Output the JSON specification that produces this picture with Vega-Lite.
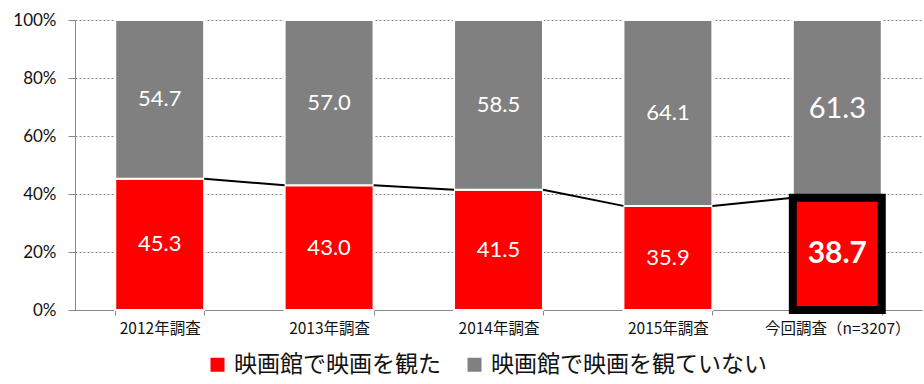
{
  "$schema": "https://vega.github.io/schema/vega-lite/v6.json",
  "width": 847,
  "height": 290,
  "autosize": {"type": "none"},
  "padding": {"left": 75, "top": 20, "right": 2, "bottom": 74},
  "background": "white",
  "config": {
    "view": {"stroke": null},
    "axis": {"domainColor": "#888888", "tickColor": "#888888", "labelColor": "#111111", "titleFontSize": 0}
  },
  "datasets": {
    "bars": [
      {"year": "2012年調査", "kind": "映画館で映画を観た", "value": 45.3},
      {"year": "2012年調査", "kind": "映画館で映画を観ていない", "value": 54.7},
      {"year": "2013年調査", "kind": "映画館で映画を観た", "value": 43.0},
      {"year": "2013年調査", "kind": "映画館で映画を観ていない", "value": 57.0},
      {"year": "2014年調査", "kind": "映画館で映画を観た", "value": 41.5},
      {"year": "2014年調査", "kind": "映画館で映画を観ていない", "value": 58.5},
      {"year": "2015年調査", "kind": "映画館で映画を観た", "value": 35.9},
      {"year": "2015年調査", "kind": "映画館で映画を観ていない", "value": 64.1},
      {"year": "今回調査（n=3207）", "kind": "映画館で映画を観た", "value": 38.7},
      {"year": "今回調査（n=3207）", "kind": "映画館で映画を観ていない", "value": 61.3}
    ],
    "links": [
      {"year": "2012年調査", "next": "2013年調査", "v": 45.3, "vNext": 43.0},
      {"year": "2013年調査", "next": "2014年調査", "v": 43.0, "vNext": 41.5},
      {"year": "2014年調査", "next": "2015年調査", "v": 41.5, "vNext": 35.9},
      {"year": "2015年調査", "next": "今回調査（n=3207）", "v": 35.9, "vNext": 38.7}
    ]
  },
  "encoding": {
    "x": {
      "field": "year", "type": "nominal", "sort": null, "title": null,
      "scale": {"paddingInner": 0.475, "paddingOuter": 0.2375},
      "axis": {"labelAngle": 0, "labelFont": "Noto Sans CJK JP", "labelFontSize": 15.5, "labelPadding": 6, "tickBand": "extent", "tickSize": 5, "grid": false}
    }
  },
  "layer": [
    {
      "data": {"name": "bars"},
      "mark": {"type": "bar", "stroke": "white", "strokeWidth": 2},
      "encoding": {
        "y": {
          "field": "value", "type": "quantitative", "stack": "zero", "title": null,
          "scale": {"domain": [0, 100], "nice": false},
          "axis": {"tickCount": 5, "labelExpr": "datum.value + '%'", "labelFont": "Lato", "labelFontSize": 17, "labelPadding": 12, "tickSize": 7, "grid": true, "gridColor": "#888888", "gridDash": [2, 2], "gridWidth": 1}
        },
        "order": {"field": "kind", "sort": "ascending"},
        "color": {
          "field": "kind", "type": "nominal",
          "scale": {"domain": ["映画館で映画を観た", "映画館で映画を観ていない"], "range": ["#ff0000", "#808080"]},
          "legend": {"title": null, "orient": "none", "direction": "horizontal", "legendX": 131, "legendY": 333, "symbolType": "square", "symbolSize": 196, "symbolStrokeWidth": 0, "labelFont": "Noto Sans CJK JP", "labelFontSize": 23, "labelColor": "#111111", "labelOffset": 5, "columnPadding": 22, "labelLimit": 400}
        }
      }
    },
    {
      "data": {"name": "bars"},
      "transform": [{"filter": "datum.year == '今回調査（n=3207）' && datum.kind == '映画館で映画を観た'"}],
      "mark": {"type": "bar", "color": "#ff0000", "stroke": "black", "strokeWidth": 8},
      "encoding": {
        "y": {"field": "value", "type": "quantitative", "stack": "zero"}
      }
    },
    {
      "data": {"name": "links"},
      "mark": {"type": "rule", "color": "black", "strokeWidth": 2, "xOffset": 44.5, "x2Offset": -44.5},
      "encoding": {
        "x2": {"field": "next"},
        "y": {"field": "v", "type": "quantitative"},
        "y2": {"field": "vNext"}
      }
    },
    {
      "data": {"name": "bars"},
      "mark": {"type": "text", "color": "white", "font": "Lato", "baseline": "middle"},
      "encoding": {
        "y": {"field": "value", "type": "quantitative", "stack": "zero", "bandPosition": 0.5},
        "detail": {"field": "kind"},
        "order": {"field": "kind", "sort": "ascending"},
        "text": {
          "condition": {"test": "datum.year == '今回調査（n=3207）' && datum.kind == '映画館で映画を観た'", "value": ""},
          "field": "value", "type": "quantitative", "format": ".1f"
        },
        "size": {"condition": {"test": "datum.year == '今回調査（n=3207）'", "value": 29}, "value": 22}
      }
    },
    {
      "data": {"name": "bars"},
      "transform": [{"filter": "datum.year == '今回調査（n=3207）' && datum.kind == '映画館で映画を観た'"}],
      "mark": {"type": "text", "color": "white", "font": "Lato", "fontWeight": "bold", "fontSize": 30, "baseline": "middle"},
      "encoding": {
        "y": {"field": "value", "type": "quantitative", "stack": "zero", "bandPosition": 0.5},
        "text": {"field": "value", "type": "quantitative", "format": ".1f"}
      }
    }
  ]
}
